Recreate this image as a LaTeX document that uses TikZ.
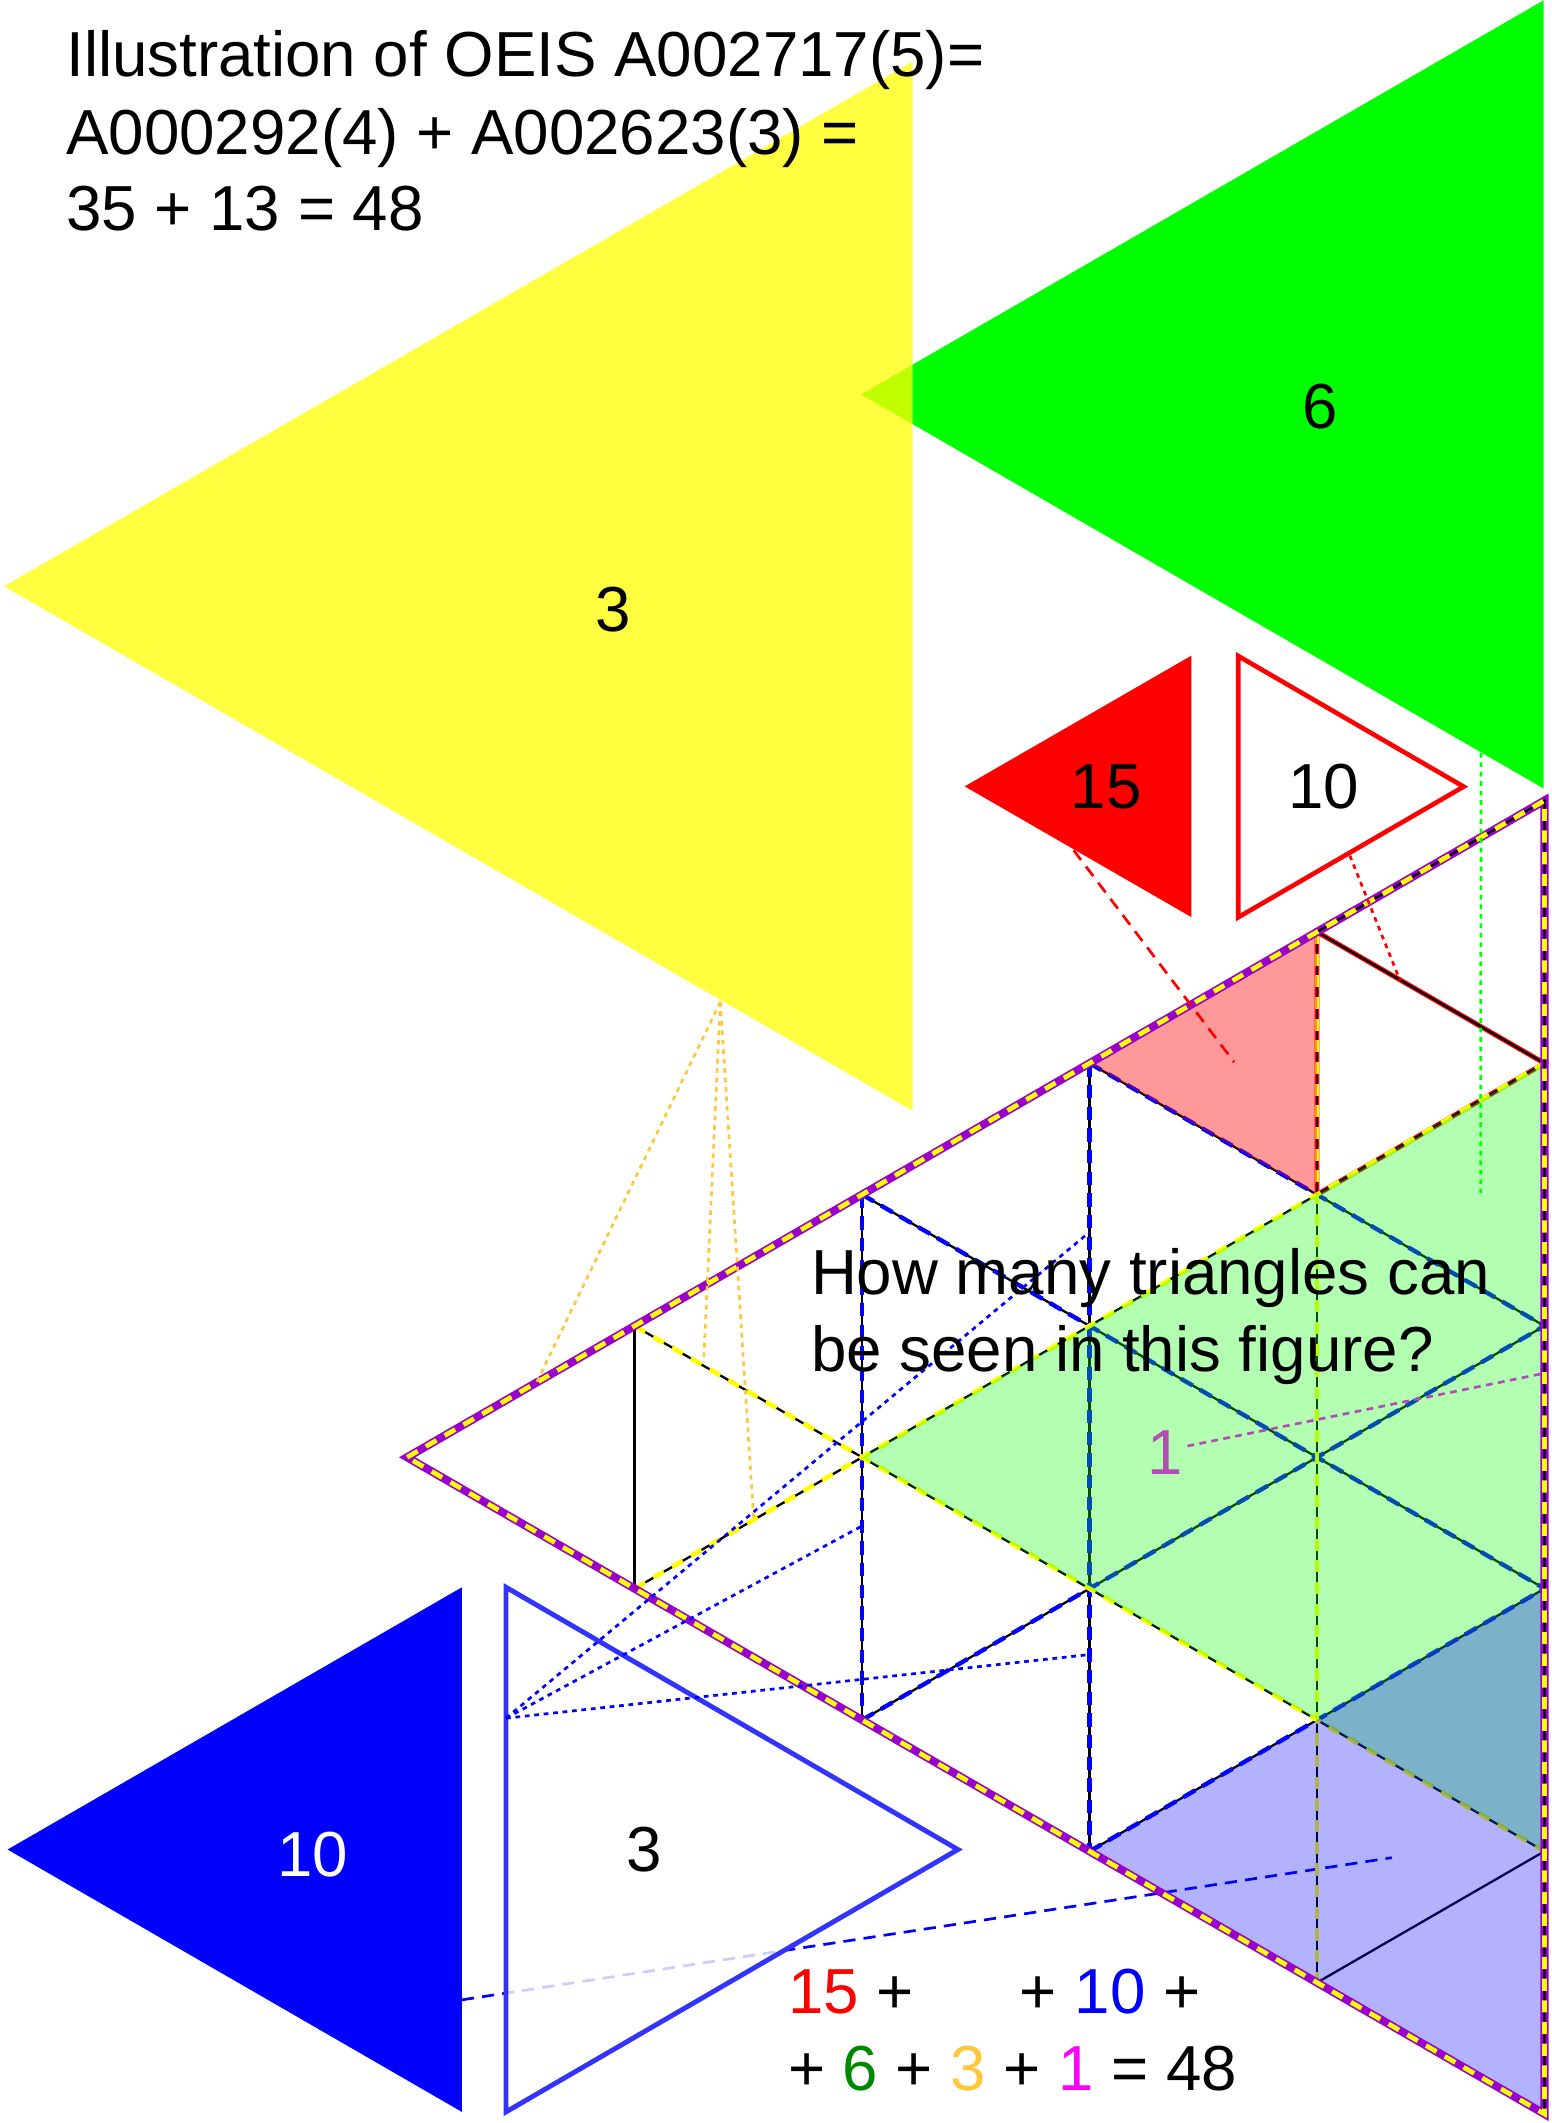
\documentclass[tikz,border=0pt]{standalone}
\usepackage{fontspec}
\setmainfont{Liberation Sans}
\definecolor{purp}{RGB}{153,0,204}
\definecolor{ylw}{RGB}{255,255,0}
\definecolor{grn}{RGB}{0,255,0}
\definecolor{orng}{RGB}{255,200,60}
\definecolor{dgreen}{RGB}{0,136,0}
\definecolor{outblue}{RGB}{51,51,255}
\definecolor{mag}{RGB}{255,0,255}
\definecolor{rred}{RGB}{255,0,0}
\definecolor{bblue}{RGB}{0,0,255}
\begin{document}
\begin{tikzpicture}[x=1pt,y=-1pt,
  txt/.style={font=\fontsize{47}{56}\selectfont, inner sep=0pt, outer sep=0pt},
  gridl/.style={black, line width=1.7pt},
  bluedash/.style={bblue, line width=3.2pt, dash pattern=on 10pt off 6pt},
  ylwdash/.style={ylw, line width=3.5pt, dash pattern=on 9pt off 7pt},
  leaderdot/.style={line width=2pt, dash pattern=on 3.5pt off 3.5pt},
  leaderdash/.style={line width=2pt, dash pattern=on 9pt off 6pt}]
\useasboundingbox (0,0) rectangle (1146,1568);

% grid points
\foreach \i in {0,...,5}{
  \foreach \j in {0,...,\i}{
    \coordinate (p\i-\j) at ({300.7+168*\i},{1076.3+97*(2*\j-\i)});
  }
}

% big green and yellow triangles
\fill[grn] (636,291.3) -- (1140,0.3) -- (1140,582.3) -- cycle;
\fill[ylw, fill opacity=0.75] (3,433) -- (674,45.6) -- (674,820.4) -- cycle;
\node[txt] (lab3y) at (453,450) {3};
\node[txt] (lab6) at (975.2,300) {6};

% red triangles
\fill[rred] (712.5,580.8) -- (880,484.2) -- (880,677.4) -- cycle;
\node[txt] (lab15) at (817,581) {15};
\draw[rred, line width=3.4pt, fill=white] (914.5,484.5) -- (1081,581) -- (914.5,677.5) -- cycle;
\node[txt] (lab10r) at (977.5,581) {10};

% blue triangles
\fill[bblue] (5.6,1366) -- (341.2,1172.3) -- (341.2,1559.8) -- cycle;
\node[txt, text=white] (lab10b) at (231,1369.4) {10};
\coordinate (b10) at (341.2,1477);
\coordinate (lc) at (1028,1372);
\draw[bblue, leaderdash] (b10) -- (lc);
\draw[outblue, line width=3.6pt, fill=white, fill opacity=0.8] (373.7,1172.3) -- (707.5,1366) -- (373.7,1559.8) -- cycle;
\node[txt] (lab3b) at (476,1366) {3};

% grid: red small triangle, black lines, blue and yellow dashes
\draw[rred, line width=3.6pt] (p4-0) -- (p5-1) -- (p4-1) -- cycle;
\foreach \i in {1,...,4}{
  \pgfmathtruncatemacro\m{5-\i}
  \draw[gridl] (p\i-0) -- (p\i-\i);
  \draw[gridl] (p\i-0) -- (p5-\m);
  \draw[gridl] (p\i-\i) -- (p5-\i);
}
\draw[bluedash] (p2-0) -- (p2-2);
\draw[bluedash] (p3-0) -- (p3-3);
\draw[bluedash] (p2-0) -- (p5-3);
\draw[bluedash] (p3-0) -- (p5-2);
\draw[bluedash] (p2-2) -- (p5-2);
\draw[bluedash] (p3-3) -- (p5-3);
\draw[ylwdash] (p4-0) -- (p4-4);
\draw[ylwdash] (p1-0) -- (p5-4);
\draw[ylwdash] (p1-1) -- (p5-1);

% magenta label (under the green tint)
\node[txt, text=mag] (one) at (860.8,1072.6) {1};
\coordinate (m1) at (877,1068);
\coordinate (mr) at (1140.3,1014.3);
\draw[mag, leaderdot, dash pattern=on 5pt off 4pt] (m1) -- (mr);

% translucent fills
\fill[rred, fill opacity=0.4] (p3-0) -- (p4-0) -- (p4-1) -- cycle;
\fill[grn, fill opacity=0.3] (p2-1) -- (p5-1) -- (p5-4) -- cycle;
\fill[bblue, fill opacity=0.3] (p3-3) -- (p5-3) -- (p5-5) -- cycle;

% outer triangle
\draw[purp, line width=6pt] (p0-0) -- (p5-0) -- (p5-5) -- cycle;
\draw[gridl] (p4-0) -- (p5-0) -- (p5-5);
\draw[ylwdash] (p0-0) -- (p5-0) -- (p5-5) -- cycle;

% leaders
\coordinate (r15) at (793,628);
\coordinate (rc) at (911.5,784.5);
\draw[rred, leaderdash] (r15) -- (rc);
\coordinate (r10) at (997,632);
\coordinate (rt) at (1034,724);
\draw[rred, leaderdot] (r10) -- (rt);
\coordinate (g6) at (1093.8,556);
\coordinate (gc) at (1093.6,881);
\draw[grn, leaderdot] (g6) -- (gc);
\coordinate (oy) at (532,740);
\coordinate (oa) at (396.5,1020.7);
\coordinate (ob) at (519.7,1006.2);
\coordinate (oc) at (556.6,1121);
\draw[orng, leaderdot] (oy) -- (oa);
\draw[orng, leaderdot] (oy) -- (ob);
\draw[orng, leaderdot] (oy) -- (oc);
\coordinate (bo) at (373.7,1269);
\coordinate (ba) at (804.7,910);
\coordinate (bb) at (636.7,1127);
\coordinate (bc) at (804.7,1222);
\draw[bblue, leaderdot] (bo) -- (ba);
\draw[bblue, leaderdot] (bo) -- (bb);
\draw[bblue, leaderdot] (bo) -- (bc);

% texts
\node[txt, anchor=base west] (title1) at (49,56.2) {Illustration of OEIS A002717(5)=};
\node[txt, anchor=base west] (title2) at (49,113.8) {A000292(4) + A002623(3) =};
\node[txt, anchor=base west] (title3) at (49,170.5) {35 + 13 = 48};
\node[txt, anchor=base west] (q1) at (599,955.8) {How many triangles can};
\node[txt, anchor=base west] (q2) at (599,1012.8) {be seen in this figure?};
\node[txt, anchor=base west] (eq1) at (582,1487) {\textcolor{rred}{15} + \textcolor{white}{10} + \textcolor{bblue}{10} + \textcolor{white}{3}};
\node[txt, anchor=base west] (eq2) at (582,1544.3) {+ \textcolor{dgreen}{6} + \textcolor{orng}{3} + \textcolor{mag}{1} = 48};
\end{tikzpicture}
\end{document}
